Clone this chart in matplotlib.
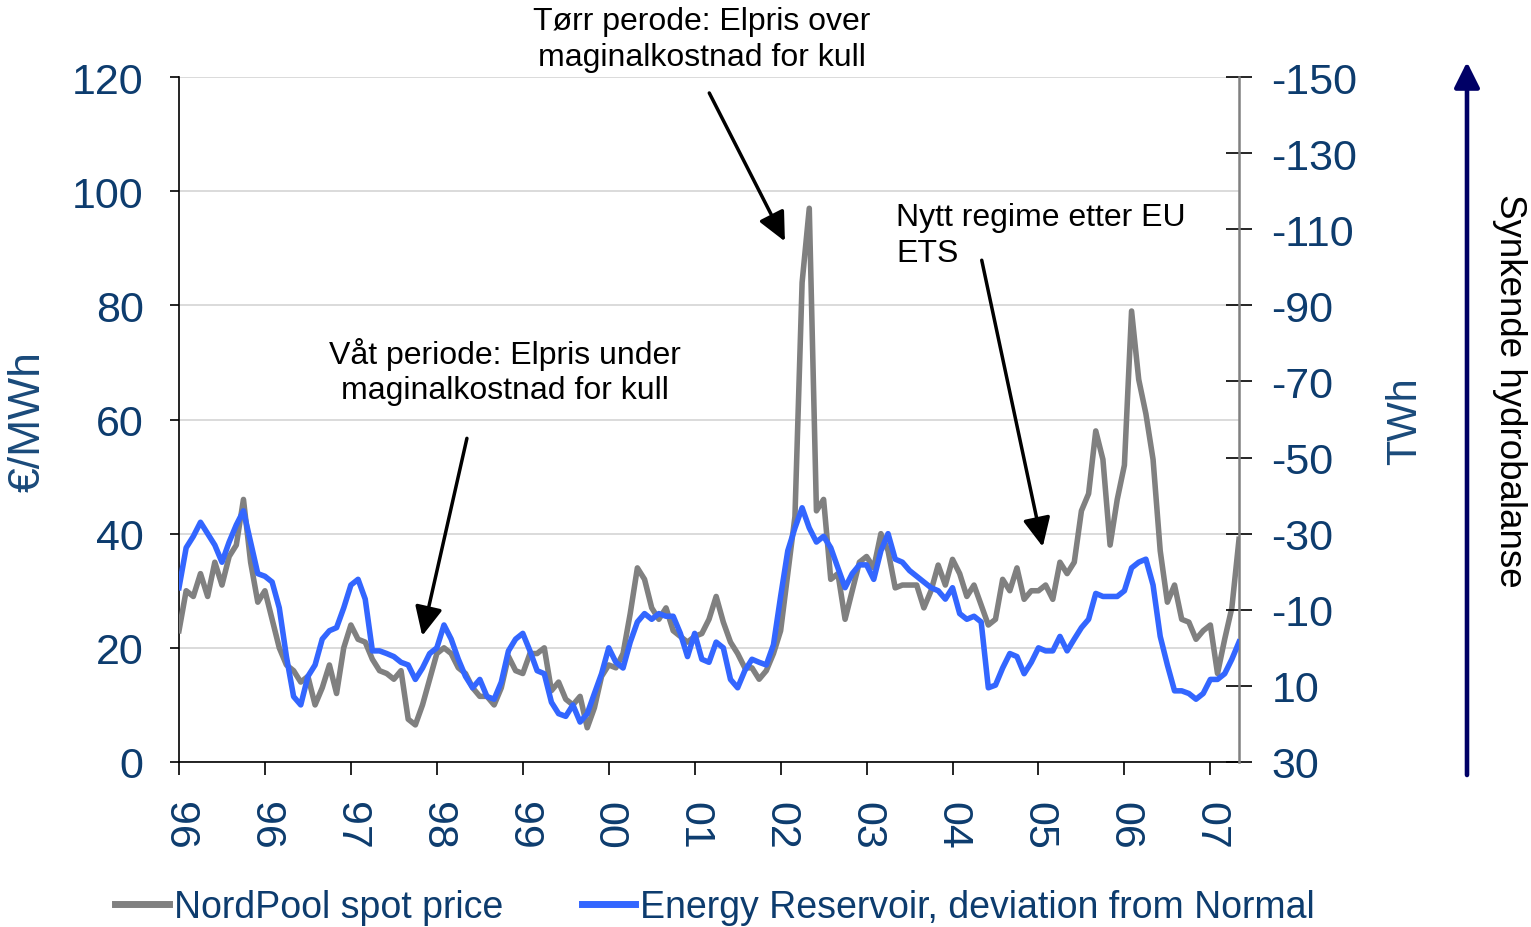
import numpy as np
import matplotlib
matplotlib.use('Agg')
import matplotlib.pyplot as plt

plt.rcParams['font.family'] = ['Liberation Sans', 'DejaVu Sans']
plt.rcParams['axes.unicode_minus'] = False

# ---------------- data ----------------
tick_labels = ['96', '96', '97', '98', '99', '00', '01', '02', '03', '04', '05', '06', '07']
samples_per_tick = 12

# NordPool spot price, EUR/MWh
spot_price = [
    23, 30, 29, 33, 29, 35, 31, 36, 38, 46, 35, 28,
    30, 25, 20, 17, 16, 14, 15, 10, 13, 17, 12, 20,
    24, 21.5, 21, 18, 16, 15.5, 14.5, 16, 7.5, 6.5, 10, 14.5,
    19, 20, 19, 16.5, 15.5, 13, 11.5, 11.5, 10, 13, 18.5, 16,
    15.5, 19, 19, 20, 12.5, 14, 11, 10, 11.5, 6, 9.5, 15,
    17, 16.5, 19, 26, 34, 32, 27, 25, 27, 23, 22, 21,
    22, 22.5, 25, 29, 24.5, 21, 19, 16.5, 16.5, 14.5, 16, 19,
    23, 33, 43, 84, 97, 44, 46, 32, 33, 25, 30, 35,
    36, 34, 40, 37, 30.5, 31, 31, 31, 27, 30, 34.5, 31,
    35.5, 33, 29, 31, 27.5, 24, 25, 32, 30, 34, 28.5, 30,
    30, 31, 28.5, 35, 33, 35, 44, 47, 58, 53, 38, 46,
    52, 79, 67, 61, 53, 37, 28, 31, 25, 24.5, 21.5, 23,
    24, 15.5, 21.5, 27, 39,
]

# Energy reservoir, deviation from normal, TWh
reservoir_dev = [
    -15.8, -26.3, -29.3, -33, -30, -27, -22.5, -27.8, -32.3, -36, -27.8, -19.5,
    -18.8, -17.3, -10.5, 2.3, 12.8, 15, 7.5, 4.5, -2.3, -4.5, -5.3, -10.5,
    -16.5, -18, -12.8, 0.8, 0.8, 1.5, 2.3, 3.8, 4.5, 8.3, 5.3, 1.5,
    0, -6, -2.3, 3, 7.5, 10.5, 8.3, 12.8, 13.5, 9, 0.8, -2.3,
    -3.8, 0.8, 6, 6.8, 14.3, 17.3, 18, 15, 19.5, 17.3, 12, 6.8,
    0, 3.8, 5.3, -1.5, -6.8, -9, -7.5, -9, -8.3, -8.3, -3.8, 2.3,
    -3.8, 3, 3.8, -1.5, 0, 8.3, 10.5, 6, 3, 3.8, 4.5, -0.8,
    -13.5, -25.5, -31.5, -36.8, -31.5, -27.8, -29.3, -26.3, -21, -15.8, -19.5, -21.8,
    -21.8, -18, -25.5, -30, -23.3, -22.5, -20.3, -18.8, -17.3, -15.8, -15, -12.8,
    -15.8, -9, -7.5, -8.3, -6.8, 10.5, 9.8, 5.3, 1.5, 2.3, 6.8, 3.8,
    0, 0.8, 0.8, -3, 0.8, -2.3, -5.3, -7.5, -14.3, -13.5, -13.5, -13.5,
    -15, -21, -22.5, -23.3, -16.5, -3, 4.5, 11.3, 11.3, 12, 13.5, 12,
    8.3, 8.3, 6.8, 3, -1.5,
]

price_ticks = list(range(0, 121, 20))
twh_ticks = list(range(-150, 31, 20))

# ---------------- style ----------------
NAVY = '#0d3c6e'
LABEL_BLUE = '#1a4a7a'
GRAY = '#808080'
BLUE = '#3366ff'

W, H = 1531, 928
fig = plt.figure(figsize=(W / 100, H / 100), dpi=100)
ax = fig.add_axes([179 / W, 1 - 763 / H, (1239 - 179) / W, (763 - 78) / H])
ax2 = ax.twinx()

x = np.arange(len(spot_price)) / samples_per_tick
l1, = ax.plot(x, spot_price, color=GRAY, lw=4.0, solid_joinstyle='round', zorder=3,
              label='NordPool spot price')
l2, = ax2.plot(x, reservoir_dev, color=BLUE, lw=4.0, solid_joinstyle='round', zorder=3,
               label='Energy Reservoir, deviation from Normal')

ax.set_xlim(0, (len(spot_price) - 1) / samples_per_tick)
ax.set_ylim(0, 120)
ax2.set_ylim(30, -150)

ax.set_xticks(range(len(tick_labels)))
ax.set_xticklabels(tick_labels)
ax.set_yticks(price_ticks)
ax2.set_yticks(twh_ticks)

ax.grid(axis='y', color='#d4d4d4', lw=1.2, zorder=0)
ax.set_axisbelow(True)

for s in ['top', 'right']:
    ax.spines[s].set_visible(False)
for s in ['top', 'left', 'bottom']:
    ax2.spines[s].set_visible(False)
ax.spines['left'].set_linewidth(1.2)
ax.spines['bottom'].set_linewidth(1.2)
ax2.spines['right'].set_color(GRAY)
ax2.spines['right'].set_linewidth(1.8)

ax.tick_params(axis='y', direction='out', length=6.5, width=1.2, pad=19,
               labelsize=31, labelcolor=NAVY)
ax.tick_params(axis='x', direction='out', length=9.4, width=1.2, pad=19,
               labelsize=31, labelcolor=NAVY, labelrotation=-90)
ax2.tick_params(axis='y', direction='inout', length=18.7, width=1.2, pad=14,
                labelsize=31, labelcolor=NAVY)

# axis titles
fig.text(28 / W, 1 - 422 / H, '€/MWh', rotation=90, ha='center', va='center',
         fontsize=32, color=LABEL_BLUE)
fig.text(1405 / W, 1 - 421 / H, 'TWh', rotation=90, ha='center', va='center',
         fontsize=30, color=LABEL_BLUE)

# hydro balance arrow + label
ax.annotate('', xy=(1467 / W, 1 - 63 / H), xytext=(1467 / W, 1 - 776 / H),
            xycoords='figure fraction', textcoords='figure fraction',
            arrowprops=dict(arrowstyle='-|>,head_length=0.7,head_width=0.35',
                            mutation_scale=22, lw=3.3, color='#000066',
                            shrinkA=0, shrinkB=0))
fig.text(1510 / W, 1 - 391 / H, 'Synkende hydrobalanse', rotation=-90,
         ha='center', va='center', fontsize=26.5, color='black')

# annotations
arrow_kw = dict(arrowstyle='-|>,head_length=0.8,head_width=0.38', mutation_scale=22,
                lw=2.5, color='black', shrinkA=0, shrinkB=0)
ax.annotate('', xy=(7.05, 91.2), xytext=(6.17, 117.2), arrowprops=arrow_kw,
            annotation_clip=False)
ax.annotate('', xy=(2.83, 22.1), xytext=(3.35, 56.7), arrowprops=arrow_kw,
            annotation_clip=False)
ax.annotate('', xy=(10.05, 37.7), xytext=(9.34, 87.9), arrowprops=arrow_kw,
            annotation_clip=False)

fig.text(702 / W, 1 - 40 / H, 'Tørr perode: Elpris over\nmaginalkostnad for kull',
         ha='center', va='center', fontsize=23, linespacing=1.25)
fig.text(505 / W, 1 - 372 / H, 'Våt periode: Elpris under\nmaginalkostnad for kull',
         ha='center', va='center', fontsize=23, linespacing=1.25)
fig.text(896 / W, 1 - 236 / H, 'Nytt regime etter EU\nETS',
         ha='left', va='center', fontsize=23, linespacing=1.25)

# legend
leg = fig.legend(handles=[l1, l2], loc='center left', bbox_to_anchor=(115 / W, 1 - 908 / H),
                 ncol=2, frameon=False, fontsize=27, handlelength=1.43, handletextpad=0.13,
                 columnspacing=2.1, borderpad=0, borderaxespad=0, labelcolor=NAVY)
for ln in leg.get_lines():
    ln.set_linewidth(5)

fig.savefig('out.png', dpi=100)
